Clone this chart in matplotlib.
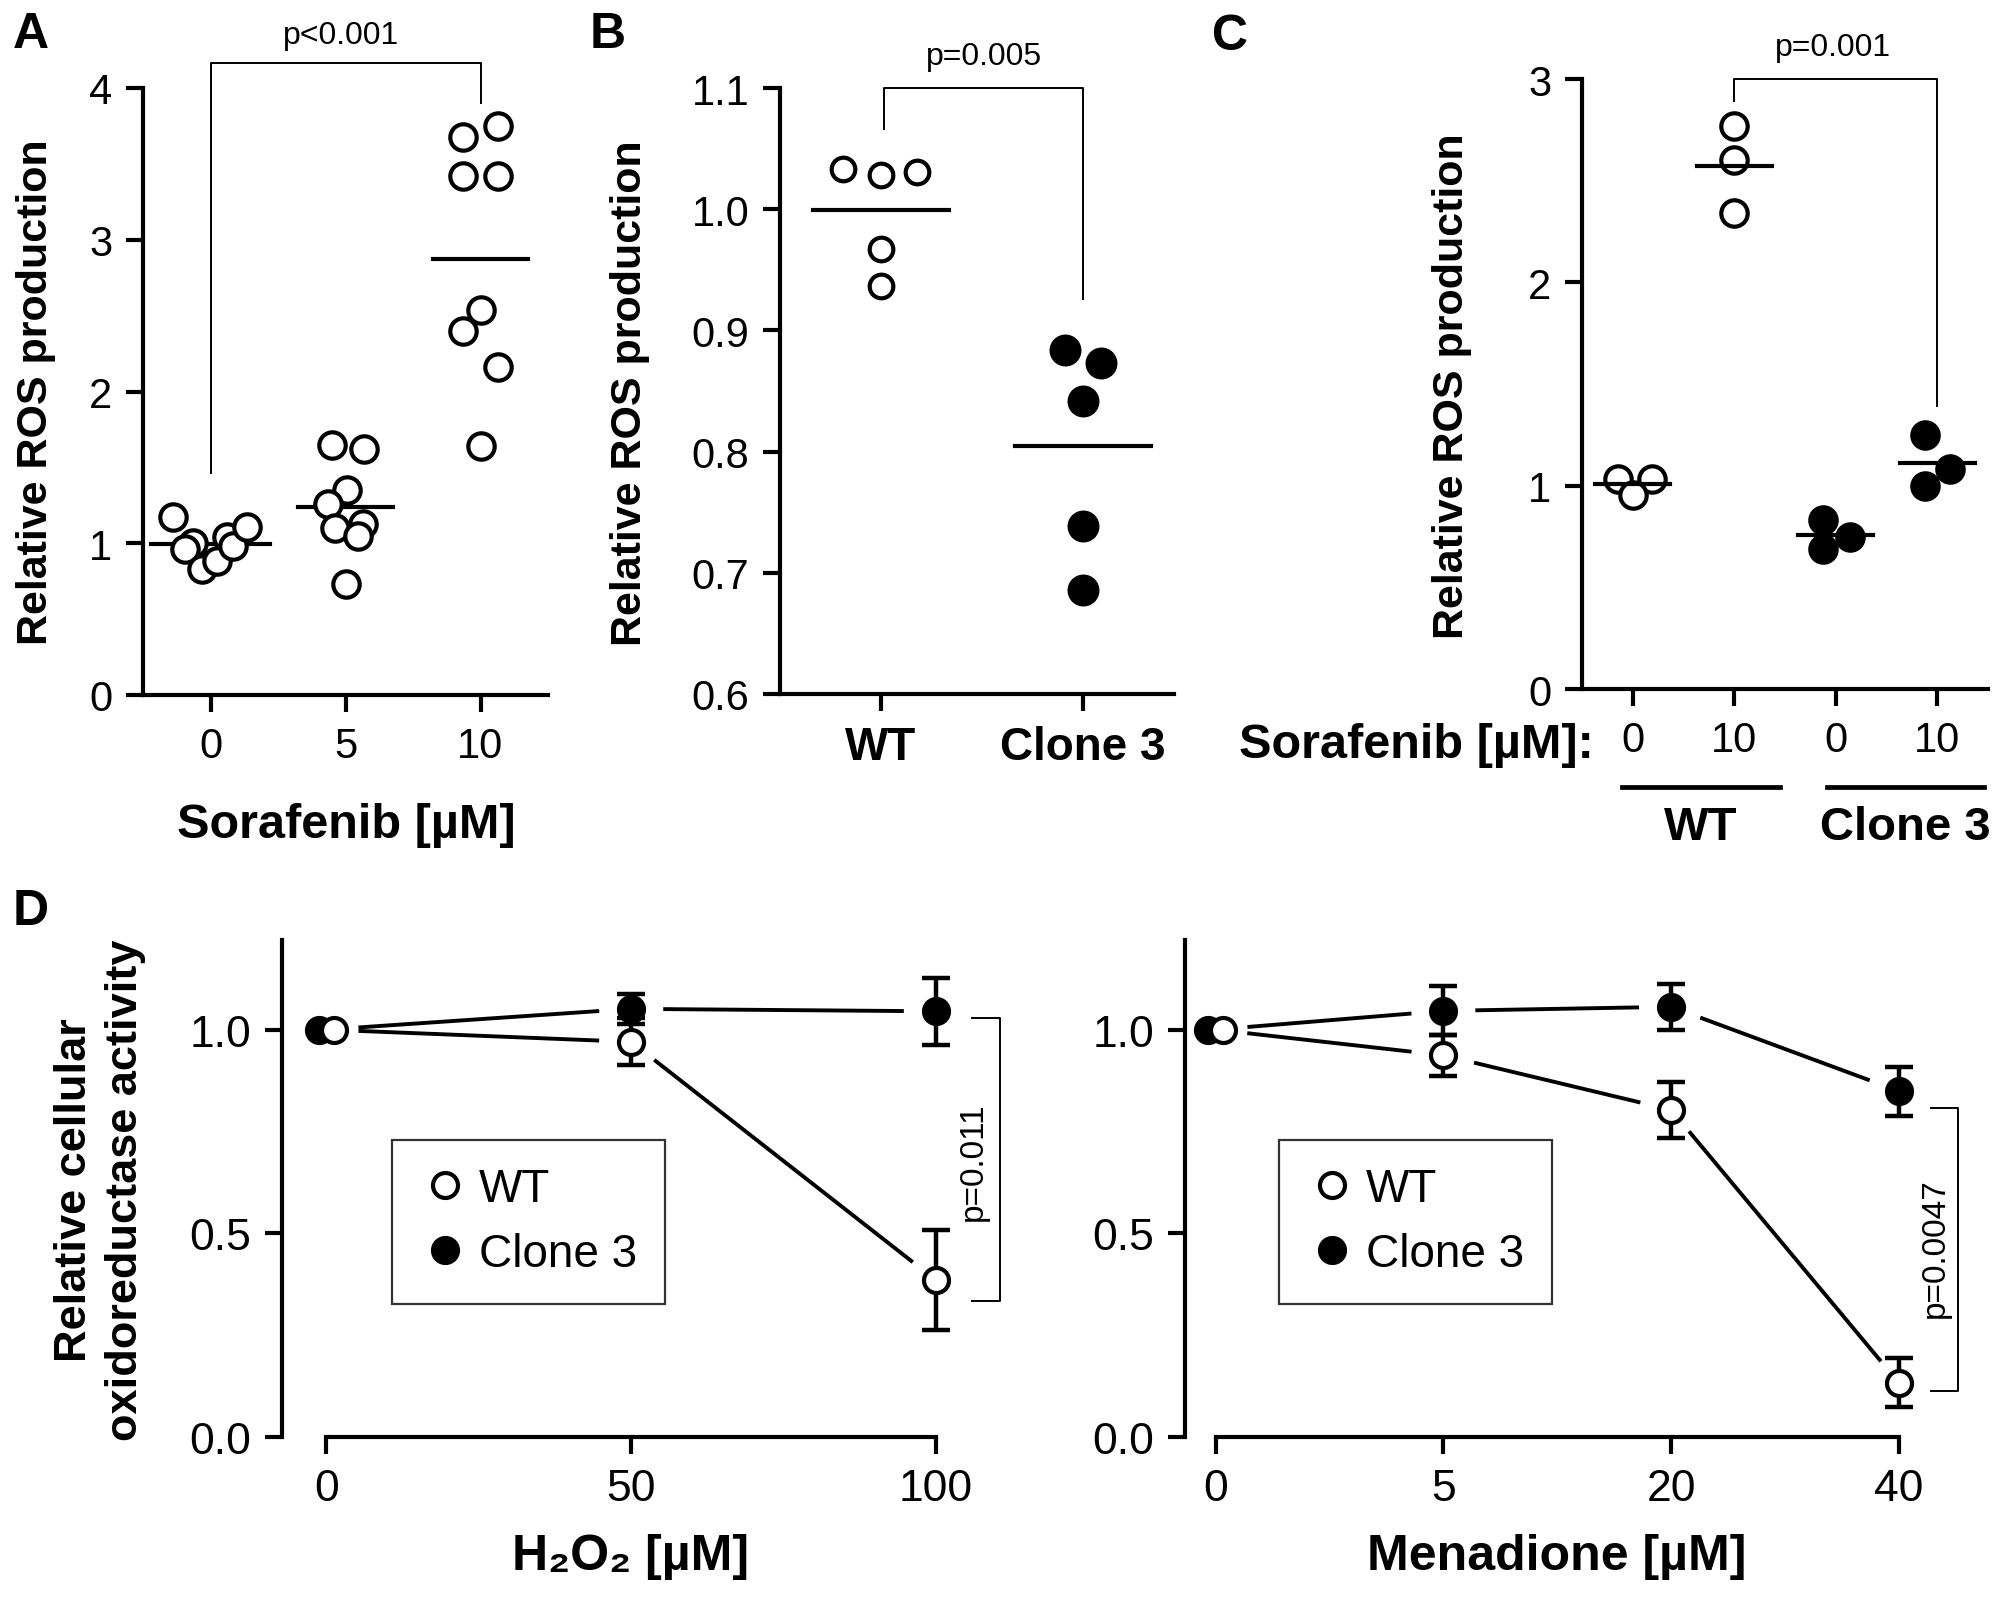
import numpy as np
import matplotlib
matplotlib.use("Agg")
import matplotlib.pyplot as plt
from matplotlib.lines import Line2D

REG = ["Liberation Sans", "DejaVu Sans"]
NARROW = ["Liberation Sans Narrow", "Liberation Sans", "DejaVu Sans"]
plt.rcParams.update({"font.family": REG, "axes.linewidth": 3.0,
                     "xtick.major.width": 3.0, "ytick.major.width": 3.0,
                     "xtick.major.size": 12, "ytick.major.size": 12,
                     "xtick.labelsize": 30, "ytick.labelsize": 30})

W, H = 2000, 1608

# ---------------- data
# A: ROS vs sorafenib dose
a_doses = ["0", "5", "10"]
a_vals = [[1.17, 1.00, 0.96, 0.83, 0.88, 1.04, 0.98, 1.11],
          [1.65, 1.62, 1.35, 1.26, 1.13, 1.10, 1.05, 0.73],
          [3.68, 3.75, 3.42, 3.42, 2.54, 2.40, 2.16, 1.64]]
a_jit = [[-0.28, -0.13, -0.19, -0.06, 0.05, 0.12, 0.17, 0.27],
         [-0.10, 0.14, 0.01, -0.13, 0.13, -0.08, 0.09, 0.0],
         [-0.13, 0.13, -0.13, 0.13, 0.0, -0.13, 0.13, 0.0]]
a_mean_hw = [0.44, 0.35, 0.35]

# B: WT vs clone 3
b_groups = ["WT", "Clone 3"]
b_wt = [1.033, 1.028, 1.031, 0.967, 0.937]
b_cl = [0.884, 0.873, 0.842, 0.739, 0.686]
b_wt_jit = [-0.19, 0.0, 0.18, 0.0, 0.0]
b_cl_jit = [-0.09, 0.09, 0.0, 0.0, 0.0]

# C: genotype x sorafenib
c_doses = ["0", "10", "0", "10"]
c_vals = [[1.033, 1.033, 0.956], [2.77, 2.60, 2.34],
          [0.833, 0.746, 0.690], [1.25, 1.08, 1.00]]
c_filled = [False, False, True, True]
c_jit = [[-0.15, 0.19, 0.0], [0.0, 0.0, 0.0],
         [-0.13, 0.14, -0.13], [-0.12, 0.13, -0.12]]

# D left: H2O2
h_dose = [0, 50, 100]
h_wt = [1.0, 0.970, 0.385]
h_wt_err = [0.0, 0.058, 0.123]
h_cl = [1.0, 1.051, 1.045]
h_cl_err = [0.0, 0.037, 0.082]

# D right: menadione
m_dose = ["0", "5", "20", "40"]
m_wt = [1.0, 0.937, 0.803, 0.133]
m_wt_err = [0.0, 0.051, 0.069, 0.060]
m_cl = [1.0, 1.046, 1.056, 0.849]
m_cl_err = [0.0, 0.060, 0.056, 0.060]

fig = plt.figure(figsize=(W / 100, H / 100), dpi=100)


def px_axes(l, t, r, b):
    return fig.add_axes([l / W, 1 - b / H, (r - l) / W, (b - t) / H])


def ftext(x, y, s, **kw):
    return fig.text(x / W, 1 - y / H, s, **kw)


def style(ax):
    for s in ["top", "right"]:
        ax.spines[s].set_visible(False)
    ax.tick_params(direction="out", pad=10)


def dots(ax, xs, ys, filled, ms=19):
    ax.plot(xs, ys, "o", ls="none", ms=ms, mew=3.0, mec="black",
            mfc="black" if filled else "white", zorder=4, clip_on=False)


def bracket(ax, x0, x1, ytop, y0, y1, lw=1.4):
    ax.plot([x0, x0, x1, x1], [y0, ytop, ytop, y1], color="black", lw=lw,
            clip_on=False)


# ------------------------------------------------------------------ A
axA = px_axes(143, 89, 548, 696)
style(axA)
for i, (v, j) in enumerate(zip(a_vals, a_jit)):
    dots(axA, np.array(j) + i, v, False)
    m = np.mean(v)
    axA.plot([i - a_mean_hw[i], i + a_mean_hw[i]], [m, m], color="black", lw=3.0, zorder=3)
axA.set_xlim(-0.5, 2.5); axA.set_ylim(0, 4)
axA.set_xticks(range(3)); axA.set_xticklabels(a_doses)
axA.set_yticks([0, 1, 2, 3, 4])
bracket(axA, 0, 2, 4.165, 1.46, 3.9)
ftext(341, 36, "p<0.001", fontsize=23, ha="center", va="center")
ftext(36, 392, "Relative ROS production", rotation=90, fontsize=31,
      fontweight="bold", ha="center", va="center")
ftext(346, 826, "Sorafenib [µM]", fontsize=35, fontweight="bold",
      ha="center", va="center")

# ------------------------------------------------------------------ B
axB = px_axes(780, 89, 1174, 695)
style(axB)
dots(axB, np.array(b_wt_jit), b_wt, False, ms=17)
dots(axB, np.array(b_cl_jit) + 1, b_cl, True, ms=20)
for i, v in enumerate([b_wt, b_cl]):
    m = np.mean(v)
    axB.plot([i - 0.335, i + 0.335], [m, m], color="black", lw=3.0, zorder=3)
axB.set_xlim(-0.5, 1.45); axB.set_ylim(0.6, 1.1)
axB.set_xticks([0, 1]); axB.set_xticklabels(b_groups, fontsize=33, fontweight="bold")
axB.set_yticks(np.arange(0.6, 1.11, 0.1))
axB.yaxis.set_major_formatter(matplotlib.ticker.FormatStrFormatter("%.1f"))
bracket(axB, 0.015, 1.0, 1.1, 1.066, 0.926)
ftext(984, 57, "p=0.005", fontsize=23, ha="center", va="center")
ftext(630, 393, "Relative ROS production", rotation=90, fontsize=31,
      fontweight="bold", ha="center", va="center")

# ------------------------------------------------------------------ C
axC = px_axes(1582, 80, 1988, 690)
style(axC)
for i, (v, j, f) in enumerate(zip(c_vals, c_jit, c_filled)):
    dots(axC, np.array(j) + i, v, f, ms=19)
    m = np.mean(v)
    axC.plot([i - 0.37, i + 0.37], [m, m], color="black", lw=3.0, zorder=5)
axC.set_xlim(-0.5, 3.5); axC.set_ylim(0, 3)
axC.set_xticks(range(4)); axC.set_xticklabels(c_doses)
axC.set_yticks([0, 1, 2, 3])
bracket(axC, 1, 3, 3.0, 2.89, 1.39)
ftext(1833, 48, "p=0.001", fontsize=23, ha="center", va="center")
ftext(1452, 386, "Relative ROS production", rotation=90, fontsize=31,
      fontweight="bold", ha="center", va="center")
ftext(1594, 746, "Sorafenib [µM]:", fontsize=35, fontweight="bold",
      family=NARROW, ha="right", va="center")
for (x0, x1), lab in zip([(1622, 1780), (1827, 1984)], ["WT", "Clone 3"]):
    fig.add_artist(Line2D([x0 / W, x1 / W], [1 - 788 / H] * 2, color="black", lw=3.4))
    ftext((x0 + x1) / 2, 828, lab, fontsize=34, fontweight="bold",
          family=NARROW, ha="center", va="center")


# ------------------------------------------------------------------ D
def gapped(ax, xs, ys, gap=34):
    pts = ax.transData.transform(np.column_stack([xs, ys]))
    inv = ax.transData.inverted()
    for p0, p1 in zip(pts[:-1], pts[1:]):
        u = (p1 - p0) / np.hypot(*(p1 - p0))
        a, b = inv.transform(np.array([p0 + u * gap, p1 - u * gap]))
        ax.plot([a[0], b[0]], [a[1], b[1]], color="black", lw=2.8, zorder=1)


def dpanel(ax, xs, wt, wte, cl, cle, shift):
    xs = np.asarray(xs, dtype=float)
    gapped(ax, xs, cl); gapped(ax, xs, wt)
    for y, e, f, sh in [(cl, cle, True, -shift), (wt, wte, False, shift)]:
        x = xs.copy(); x[0] += sh
        ax.errorbar(x[1:], y[1:], yerr=e[1:], fmt="none", ecolor="black",
                    elinewidth=3.2, capsize=10, capthick=3.2, zorder=3)
        ax.plot(x, y, "o", ls="none", ms=18, mew=3.0, mec="black",
                mfc="black" if f else "white", zorder=4)
    ax.spines["top"].set_visible(False); ax.spines["right"].set_visible(False)
    ax.set_ylim(0, 1.22); ax.spines["left"].set_bounds(0, 1.22)
    ax.spines["bottom"].set_bounds(xs[0], xs[-1])
    ax.set_yticks([0, 0.5, 1.0])
    ax.yaxis.set_major_formatter(matplotlib.ticker.FormatStrFormatter("%.1f"))
    ax.tick_params(direction="out", pad=10)
    for t in ax.get_xticklabels() + ax.get_yticklabels():
        t.set_family(NARROW); t.set_fontsize(32)
    h = [Line2D([], [], marker="o", ls="none", ms=18, mew=3.0, mec="black", mfc="white"),
         Line2D([], [], marker="o", ls="none", ms=18, mew=3.0, mec="black", mfc="black")]
    return h


axD1 = px_axes(282, 941, 1009, 1438)
axD1.set_xlim(-7.3, 112)
axD1.set_xticks(h_dose)
hd = dpanel(axD1, h_dose, h_wt, h_wt_err, h_cl, h_cl_err, 1.3)
axD1.plot([105.9, 110.5, 110.5, 105.9], [1.029, 1.029, 0.334, 0.334], color="black",
          lw=1.4, clip_on=False)
axD1.text(106.1, 0.678, "p=0.011", rotation=90, fontsize=24,
          ha="center", va="center")

axD2 = px_axes(1185, 941, 1990, 1438)
axD2.set_xlim(-0.134, 3.4)
axD2.set_xticks(range(4)); axD2.set_xticklabels(m_dose)
dpanel(axD2, range(4), m_wt, m_wt_err, m_cl, m_cl_err, 0.035)
axD2.plot([3.14, 3.26, 3.26, 3.14], [0.808, 0.808, 0.113, 0.113], color="black",
          lw=1.4, clip_on=False)
axD2.text(3.16, 0.465, "p=0.0047", rotation=90, fontsize=24,
          ha="center", va="center")

for ax, lx in [(axD1, 392), (axD2, 1279)]:
    leg = ax.legend(hd, ["WT", "Clone 3"], loc="upper left",
                    bbox_to_anchor=(lx / W, 1 - 1141 / H), bbox_transform=fig.transFigure,
                    frameon=True, fancybox=False, edgecolor="black", borderpad=0.6,
                    handletextpad=0.2, labelspacing=0.45, handlelength=1.1,
                    borderaxespad=0, prop={"family": NARROW, "size": 33})
    leg.get_frame().set_linewidth(1.6)

ftext(100, 1190, "Relative cellular\noxidoreductase activity", rotation=90,
      fontsize=32.5, fontweight="bold", ha="center", va="center",
      multialignment="center", linespacing=1.3)
ftext(631, 1557, "H₂O₂ [µM]", fontsize=36, fontweight="bold", family=NARROW,
      ha="center", va="center")
ftext(1557, 1557, "Menadione [µM]", fontsize=36, fontweight="bold", family=NARROW,
      ha="center", va="center")

for x, y, s in [(13, 48, "A"), (590, 48, "B"), (1212, 50, "C"), (13, 925, "D")]:
    ftext(x, y, s, fontsize=36, fontweight="bold", va="baseline", ha="left")

fig.savefig("out.png", dpi=100)
